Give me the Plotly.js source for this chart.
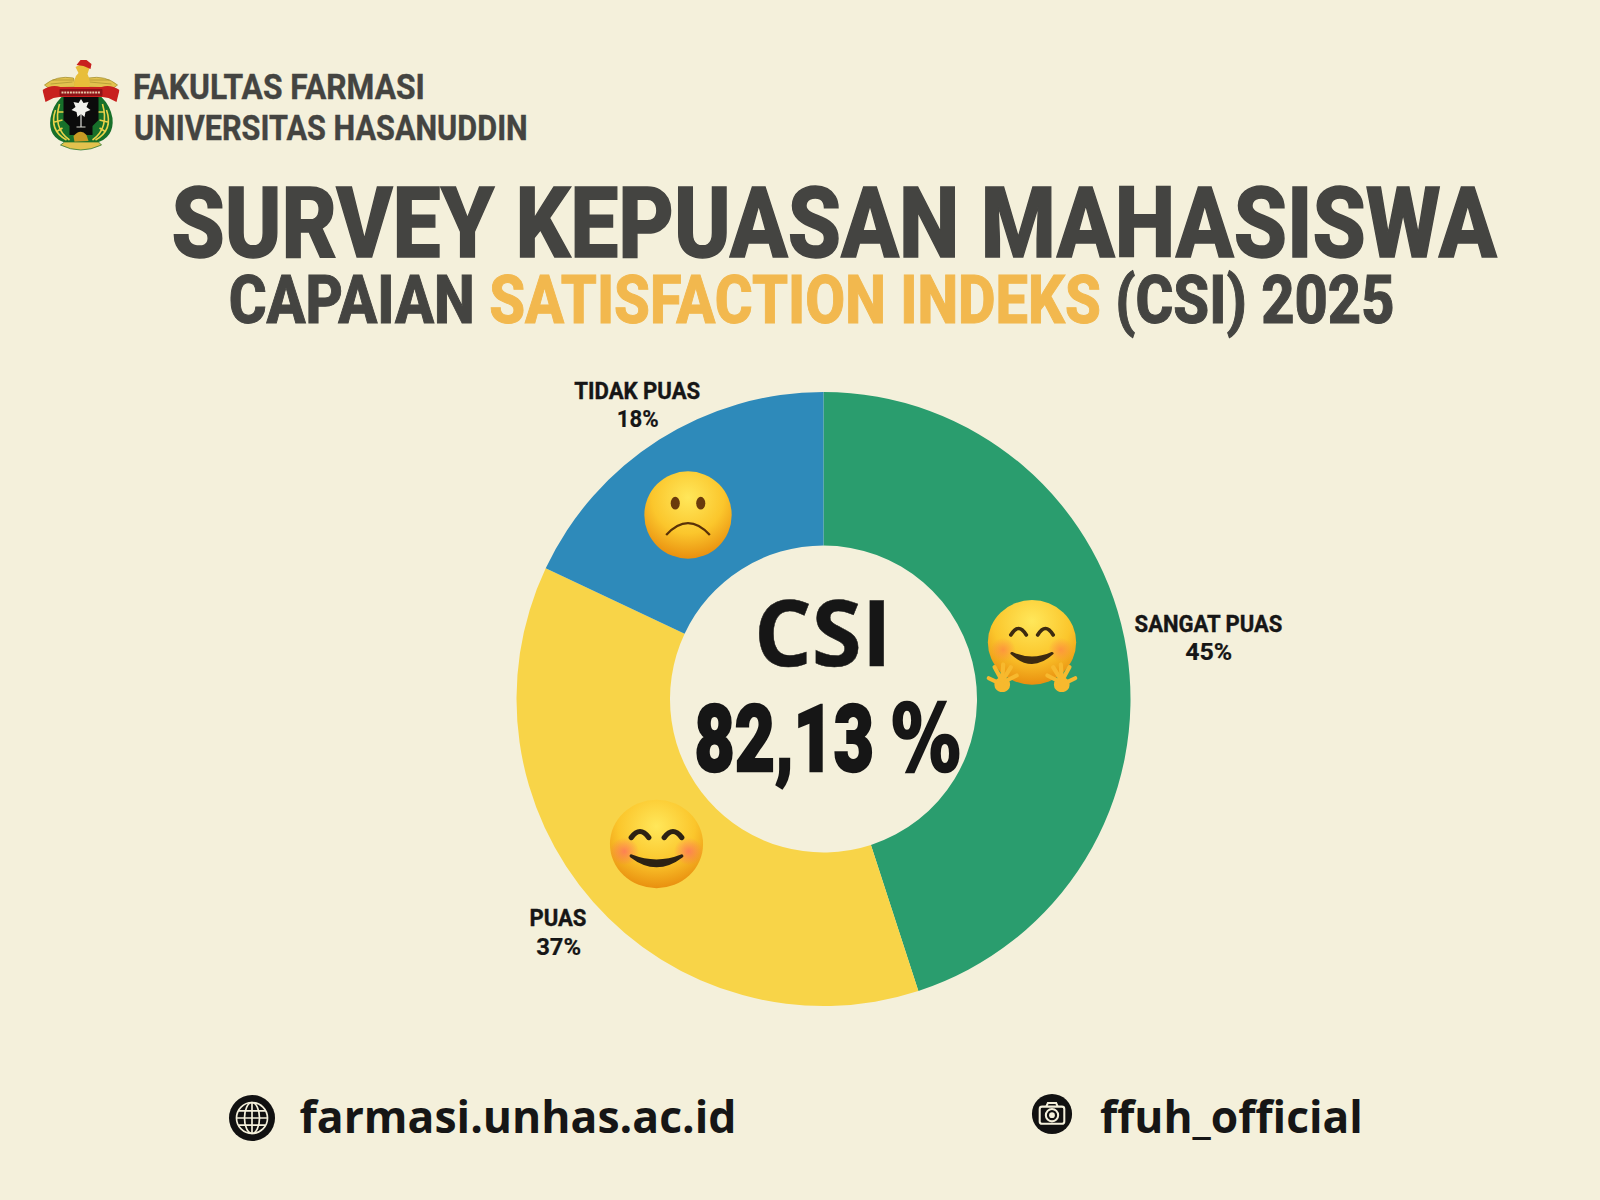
<!DOCTYPE html>
<html><head><meta charset="utf-8">
<script src="https://cdn.plot.ly/plotly-3.0.1.min.js"></script>
<style>html,body{margin:0;padding:0;background:#F4F0DB}#c{width:1600px;height:1200px}</style>
</head><body><div id="c"></div>
<script>
const categories = ['SANGAT PUAS','PUAS','TIDAK PUAS'];
const values = [45,37,18];
const sliceColors = ['#2A9D6E','#F8D448','#2E8ABA'];
const csiValue = '82,13';
const csiUnit = '%';
const W=1600,H=1200;
const INK='#444441', DARK='#161616', BG='#F4F0DB';
const px=x=>x/W, py=y=>1-y/H;

const COND='Roboto, sans-serif', OPEN='"Open Sans", sans-serif';
// text, centre x, centre y of caps, font size, family, weight, colour, target width, extra stroke
const texts=[
 ['FAKULTAS FARMASI',279,87,35,COND,700,INK,292,0.4],
 ['UNIVERSITAS HASANUDDIN',331,128,35,COND,700,INK,394,0.4],
 ['SURVEY KEPUASAN MAHASISWA',834,224,98,COND,800,INK,1326,1.5],
 ['CAPAIAN <span style="color:#F2B84E">SATISFACTION INDEKS</span> (CSI) 2025',812,300,66,COND,800,INK,1166,1],
 ['CSI',823,630,92,OPEN,700,DARK,138,0.5],
 [csiValue+' <span style="font-family:\'DejaVu Sans\';font-weight:700">'+csiUnit+'</span>',827,739,92,COND,900,DARK,266,2.5],
 [categories[2],637,391,24,COND,700,DARK,126,0.4],
 [values[2]+'%',637,419,24,COND,700,DARK,42,0.2],
 [categories[0],1208,624,24,COND,700,DARK,148,0.4],
 [values[0]+'%',1208,652,24,COND,700,DARK,47,0.2],
 [categories[1],558,918,24,COND,700,DARK,57,0.4],
 [values[1]+'%',558,947,24,COND,700,DARK,45,0.2],
 ['farmasi.unhas.ac.id',518,1116,44,OPEN,700,DARK,437,0],
 ['ffuh_official',1231,1116,44,OPEN,700,DARK,263,0]
];
const annotations=texts.map(t=>({text:t[0],x:px(t[1]),y:py(t[2]),xref:'paper',yref:'paper',xanchor:'center',yanchor:'middle',
 showarrow:false,font:{family:t[4],size:t[3],weight:t[5],color:t[6]}}));

const face=(id,inner)=>`<svg xmlns="http://www.w3.org/2000/svg" viewBox="0 0 100 100"><defs><radialGradient id="${id}" cx=".5" cy=".3" r=".75"><stop offset="0" stop-color="#FFE75A"/><stop offset=".55" stop-color="#FBC62C"/><stop offset="1" stop-color="#E6860A"/></radialGradient><radialGradient id="b"><stop offset="0" stop-color="#F66" stop-opacity=".7"/><stop offset="1" stop-color="#F66" stop-opacity="0"/></radialGradient></defs><circle cx="50" cy="50" r="48" fill="url(#${id})"/>${inner}</svg>`;
const sad=face('s','<ellipse cx="36" cy="37" rx="5" ry="7" fill="#6A3A0C"/><ellipse cx="64" cy="37" rx="5" ry="7" fill="#6A3A0C"/><path d="M26 72Q50 46 74 72" fill="none" stroke="#5A3208" stroke-width="2.5"/>');
const smile=face('m','<circle cx="17" cy="58" r="15" fill="url(#b)"/><circle cx="83" cy="58" r="15" fill="url(#b)"/><path d="M24 43Q33 30 42 43M58 43Q67 30 76 43" fill="none" stroke="#2D2214" stroke-width="5.5" stroke-linecap="round"/><path d="M24 63Q50 84 76 63Q50 74 24 63Z" fill="#2D2214" stroke="#2D2214" stroke-width="3.5" stroke-linejoin="round"/>');
const fingers=['M0 6L-15 -2','M0 4L-9 -11','M0 2L-1 -14','M0 4L8 -11','M0 8L14 1'];
const hand=(x,f)=>`<g transform="translate(${x} 84) scale(${f} 1)" fill="none" stroke="#F7B92E" stroke-width="4.4" stroke-linecap="round"><circle cx="0" cy="8" r="6" fill="#F7B92E"/>${fingers.map(d=>`<path d="${d}"/>`).join('')}</g>`;
const hug=`<svg xmlns="http://www.w3.org/2000/svg" viewBox="0 0 100 100"><defs><radialGradient id="h" cx=".5" cy=".25" r=".8"><stop offset="0" stop-color="#FFE75A"/><stop offset=".55" stop-color="#FBC62C"/><stop offset="1" stop-color="#E6860A"/></radialGradient><radialGradient id="b"><stop offset="0" stop-color="#F84" stop-opacity=".75"/><stop offset="1" stop-color="#F84" stop-opacity="0"/></radialGradient></defs><circle cx="50" cy="46" r="46" fill="url(#h)"/><circle cx="20" cy="54" r="13" fill="url(#b)"/><circle cx="80" cy="54" r="13" fill="url(#b)"/><path d="M28 38Q36 24 44 38M56 38Q64 24 72 38" fill="none" stroke="#3D2A10" stroke-width="4" stroke-linecap="round"/><path d="M29 58Q50 78 71 58Q50 68 29 58Z" fill="#3D2A10" stroke="#3D2A10" stroke-width="3" stroke-linejoin="round"/>${hand(19,-1)}${hand(81,1)}</svg>`;
const globe=`<svg xmlns="http://www.w3.org/2000/svg" viewBox="0 0 100 100"><circle cx="50" cy="50" r="49" fill="#111"/><g fill="none" stroke="#F4F0DB" stroke-width="3.6"><circle cx="50" cy="50" r="33"/><ellipse cx="50" cy="50" rx="16" ry="33"/><path d="M50 17V83M21 35H79M21 65H79M17 50H83"/></g></svg>`;
const camera=`<svg xmlns="http://www.w3.org/2000/svg" viewBox="0 0 100 100"><circle cx="50" cy="50" r="49" fill="#111"/><g fill="none" stroke="#F4F0DB" stroke-width="5"><rect x="20" y="32" width="60" height="42" rx="6"/><circle cx="50" cy="53" r="15"/><path d="M36 32L40 23H60L64 32"/></g><circle cx="50" cy="53" r="7" fill="#F4F0DB"/></svg>`;
const logo=`<svg xmlns="http://www.w3.org/2000/svg" viewBox="0 0 77 92">
<path d="M2 25Q14 15 31 18L33 27L6 28Z" fill="#E3C24E" stroke="#9E8A2A" stroke-width=".7"/><path d="M75 25Q63 15 46 18L44 27L71 28Z" fill="#E3C24E" stroke="#9E8A2A" stroke-width=".7"/>
<path d="M8 24L30 22M10 20L31 20M69 24L47 22M67 20L46 20" stroke="#9E8A2A" stroke-width=".6"/>
<path d="M32 30Q30 18 36 13L33 7L39 4L47 8L45 14Q49 22 46 30Z" fill="#E8BE3A"/><path d="M34 5L38 0L44 0L49 4L48 9L41 6Z" fill="#C8201E"/>
<path d="M8 58Q5 78 24 83L39 87L53 83Q72 78 70 58Q68 46 59 37H19Q10 46 8 58Z" fill="#17702A"/>
<path d="M13 50Q6 70 24 80M17 44Q10 68 27 80M20 60L12 62M20 68L15 71M24 52L16 52M64 50Q71 70 53 80M60 44Q67 68 50 80M57 60L65 62M57 68L62 71M53 52L61 52" fill="none" stroke="#E9D24A" stroke-width="1.6"/>
<path d="M21 37H56V60L50 66V75H27V66L21 60Z" fill="#0B0B0B"/>
<path d="M38.500 39L41 43L46 42L44 47L48 50L43 52L42 57L38.500 54L35 57L34 52L29 50L33 47L31 42L36 43Z" fill="#F1F1EC"/><path d="M38.500 54V67" stroke="#F1F1EC" stroke-width="1.1"/><path d="M34 67H43" stroke="#D9D9D0" stroke-width="1"/>
<path d="M31 76Q38 68 44 75L46 81L32 82Z" fill="#C89A24"/><path d="M18 85Q38 95 59 85L56 82H22Z" fill="#E3C24E" stroke="#17702A" stroke-width=".7"/>
<path d="M0 30Q9 24 18 27H59Q68 24 77 30L74 42L66 38L60 37H17L11 38L3 42Z" fill="#C8201E"/>
<rect x="17" y="29" width="43" height="7" rx="1" fill="#8F1216"/><path d="M19 32.500H58" stroke="#E8C8A8" stroke-width="2" stroke-dasharray="2 .8"/></svg>`;
const uri=s=>'data:image/svg+xml;charset=utf-8,'+encodeURIComponent(s);
const img=(s,cx,cy,w,h)=>({source:uri(s),xref:'paper',yref:'paper',x:px(cx-w/2),y:py(cy-h/2),sizex:w/W,sizey:h/H,xanchor:'left',yanchor:'top',sizing:'stretch',layer:'above'});
const images=[
 img(logo,81,106,77,92),
 img(sad,688,515,91,91),
 img(smile,656.5,844,97,92),
 img(hug,1032,646,96,92),
 img(globe,252,1118,47,47),
 img(camera,1052,1114,41,41)
];
const trace={type:'pie',labels:categories,values:values,sort:false,direction:'clockwise',rotation:0,hole:0.5,
 marker:{colors:sliceColors,line:{width:0}},textinfo:'none',hoverinfo:'none',showlegend:false,automargin:false,
 domain:{x:[px(516.5),px(1130.5)],y:[py(1006),py(392)]}};
const layout={width:W,height:H,margin:{l:0,r:0,t:0,b:0},paper_bgcolor:BG,plot_bgcolor:BG,showlegend:false,annotations,images};
Plotly.newPlot('c',[trace],layout,{displayModeBar:false,staticPlot:true}).then(gd=>{
 // fit each text to its measured width in the reference, and thicken to the reference's heavier face
 gd.querySelectorAll('.annotation').forEach(a=>{
  const i=+a.getAttribute('data-index'); const t=a.querySelector('text'); if(!t||!texts[i])return;
  const b=t.getBBox(); const cx=b.x+b.width/2; const s=texts[i][7]/b.width;
  t.setAttribute('transform',`translate(${cx} 0) scale(${s} 1) translate(${-cx} 0)`);
  if(texts[i][8]){t.style.stroke=texts[i][6];t.style.strokeWidth=texts[i][8]+'px';t.style.paintOrder='stroke';
   t.querySelectorAll('tspan').forEach(sp=>{if(sp.style.fill&&sp.style.fill!==''){sp.style.stroke=sp.style.fill;}});}
 });
});
</script></body></html>
